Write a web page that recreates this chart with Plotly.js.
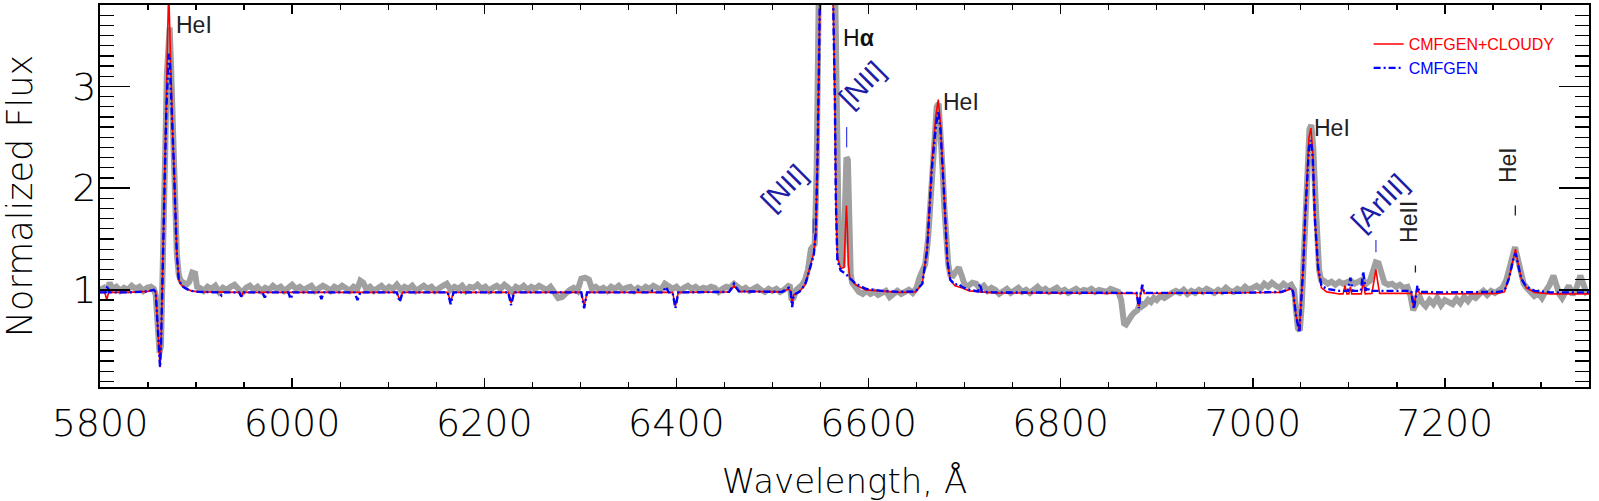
<!DOCTYPE html>
<html>
<head>
<meta charset="utf-8">
<script src="https://cdn.plot.ly/plotly-3.0.1.min.js"></script>
<style>html,body{margin:0;padding:0;background:#fff;}#chart{width:1599px;height:501px;}</style>
</head>
<body>
<div id="chart"></div>
<script>
// Observed spectrum (grey)
const obsWave = [
5800,5804,5807,5810,5813,5817,5821,5825,5829,5833,5837,5841,5845,5849,5853,5856,5858,5860,5862,5863.5,
5865,5866.5,5868,5869.5,5871,5872.5,5874,5875.5,5877,5878.5,5880,5882,5884,5887,5890,5893,5896,5899,5901,5904,
5908,5912,5916,5920,5924,5928,5932,5936,5940,5944,5948,5952,5956,5960,5964,5968,5972,5976,5980,5984,
5988,5992,5996,6000,6004,6008,6012,6016,6020,6024,6028,6032,6036,6040,6044,6048,6052,6056,6060,6064,
6068,6071,6074,6077,6081,6085,6089,6093,6097,6101,6105,6109,6113,6117,6121,6125,6129,6133,6137,6141,
6145,6149,6153,6157,6161,6165,6169,6173,6177,6181,6185,6189,6193,6197,6201,6205,6209,6213,6217,6221,
6225,6229,6233,6237,6241,6245,6249,6253,6257,6261,6265,6269,6273,6277,6281,6285,6289,6293,6297,6301,
6305,6309,6312,6316,6320,6324,6328,6332,6336,6340,6344,6348,6352,6356,6360,6364,6368,6372,6376,6380,
6384,6388,6392,6396,6400,6404,6408,6412,6416,6420,6424,6428,6432,6436,6440,6444,6448,6452,6456,6460,
6464,6468,6472,6476,6480,6484,6488,6492,6496,6500,6504,6508,6512,6515,6518,6520,6522,6525,6528,6531,
6534,6537,6540,6542,6544,6546,6547.5,6549,6556,6563,6566,6567.5,6569,6571,6573,6574.5,6575.5,6577,6578.5,6580,
6581.5,6583,6586,6590,6594,6598,6602,6606,6610,6614,6618,6622,6626,6630,6634,6638,6642,6646,6650,6653,
6656,6659,6662,6665,6668,6671,6673,6675,6677,6679,6681,6683,6685,6688,6691,6694,6697,6700,6704,6708,
6712,6716,6720,6724,6728,6732,6736,6740,6744,6748,6752,6756,6760,6764,6768,6772,6776,6780,6784,6788,
6792,6796,6800,6804,6808,6812,6816,6820,6824,6828,6832,6836,6840,6844,6848,6852,6856,6860,6863,6866,
6868,6871,6874,6877,6880,6883,6885,6888,6891,6894,6897,6900,6904,6908,6912,6916,6920,6924,6928,6932,
6936,6940,6944,6948,6952,6956,6960,6964,6968,6972,6976,6980,6984,6988,6992,6996,7000,7004,7008,7012,
7016,7020,7024,7028,7032,7036,7040,7043,7045,7047,7049,7051,7053,7055,7057,7059,7061,7063,7065,7067,
7069,7071,7074,7078,7082,7086,7090,7094,7098,7102,7106,7110,7114,7118,7122,7125,7128,7131,7134,7137,
7141,7145,7149,7153,7157,7161,7164,7167,7170,7173,7176,7180,7184,7188,7192,7196,7200,7204,7208,7212,
7216,7220,7224,7228,7232,7236,7240,7244,7248,7252,7256,7260,7264,7267,7270,7273,7276,7279,7282,7285,
7289,7293,7297,7301,7305,7309,7313,7316,7319,7322,7325,7329,7333,7337,7341,7344,7347,7350];
const obsFlux = [
1.00,1.02,0.98,1.07,1.01,1.03,0.99,1.02,1.00,1.04,1.01,1.03,0.99,1.02,1.03,1.01,0.95,0.70,0.38,0.45,
0.95,1.60,2.40,3.10,3.55,3.58,3.20,2.70,2.20,1.70,1.35,1.15,1.09,1.07,1.05,1.08,1.17,1.16,1.03,1.02,
0.99,1.03,1.01,1.04,0.98,1.02,1.00,1.03,1.05,1.01,0.97,1.02,1.04,1.00,1.03,0.99,1.02,1.00,1.04,1.01,
1.03,0.99,1.02,1.05,1.01,1.03,1.00,1.02,1.04,0.99,1.01,1.04,1.02,0.99,1.03,1.01,1.04,1.02,0.99,1.03,
1.01,1.09,1.07,1.01,1.03,0.99,1.02,1.04,1.00,1.03,1.01,1.05,1.00,1.03,1.01,1.04,0.99,1.02,1.04,1.01,
1.03,0.99,1.02,1.04,1.06,1.00,1.03,1.01,1.04,0.99,1.03,1.02,1.05,1.01,1.03,0.99,1.02,1.04,1.01,1.05,
1.02,0.98,1.03,1.01,1.04,1.00,1.03,1.01,1.04,1.02,1.00,1.03,0.98,0.92,0.93,0.97,1.00,1.02,0.99,1.11,
1.12,1.10,1.01,1.03,1.00,1.02,0.99,1.03,1.01,1.04,1.00,1.02,1.03,0.99,1.02,1.00,1.03,1.01,1.04,1.02,
1.00,1.06,1.03,1.01,1.03,0.99,1.02,1.04,1.01,1.03,1.00,1.02,1.01,1.03,1.02,0.98,1.01,1.03,1.02,1.06,
1.03,1.00,1.02,0.99,1.01,1.03,1.00,0.98,1.01,0.99,1.01,0.98,1.00,1.03,1.05,0.90,0.92,1.00,1.02,1.05,
1.10,1.20,1.40,1.44,1.45,2.20,3.60,5.50,10.0,5.50,3.20,2.00,1.50,1.28,1.22,1.50,2.10,2.30,2.28,1.60,
1.15,1.07,1.02,0.98,0.96,0.99,0.96,0.98,0.95,0.97,0.99,0.93,0.97,0.99,0.96,0.98,1.00,0.97,1.02,1.12,
1.18,1.25,1.50,2.00,2.50,2.80,2.83,2.60,2.20,1.80,1.45,1.25,1.15,1.14,1.18,1.22,1.14,1.05,1.04,1.07,
1.06,1.01,1.04,0.99,1.02,1.00,0.96,0.98,1.01,0.97,0.99,1.02,0.98,1.00,0.97,1.01,1.03,0.99,1.01,0.98,
1.00,1.02,0.98,1.00,0.97,0.99,1.01,0.98,1.00,0.99,1.01,0.98,1.00,0.99,0.98,1.01,0.99,0.98,0.90,0.67,
0.66,0.72,0.75,0.78,0.80,0.88,0.84,0.86,0.90,0.88,0.92,0.90,0.94,0.92,0.95,0.97,0.99,0.97,1.00,0.96,
0.99,0.97,1.00,0.98,1.01,0.99,0.97,1.00,0.98,1.02,0.99,0.98,1.01,0.99,1.03,1.00,1.02,1.04,1.01,1.06,
1.03,1.07,1.04,1.02,1.06,1.03,1.05,1.00,0.80,0.62,0.60,0.85,1.30,1.85,2.30,2.58,2.62,2.40,1.95,1.45,
1.20,1.10,1.09,1.06,1.08,1.05,1.08,1.06,1.07,1.09,1.06,1.08,1.10,1.06,1.09,1.18,1.27,1.26,1.15,1.07,
1.05,1.06,1.03,1.05,1.02,1.03,0.95,0.80,0.86,0.95,0.88,0.84,0.90,0.86,0.92,0.85,0.90,0.88,0.86,0.91,
0.87,0.93,0.89,0.94,0.92,0.96,0.99,0.95,0.99,0.97,1.00,1.02,1.10,1.20,1.33,1.42,1.30,1.14,1.06,1.02,
0.97,0.94,0.97,0.92,0.99,1.05,1.14,1.05,0.96,0.92,0.98,1.04,0.95,1.02,1.14,1.07,0.98,1.00];

// CMFGEN model (blue dash-dot)
const cmfWave = [
5800,5806,5808,5809.5,5830,5850,5856,5858,5860,5861.5,5862.5,5863.5,5864.5,5866,5867.5,5869,5870.5,5871.5,5872.5,5874,
5875.5,5877,5878.5,5880,5882,5885,5890,5895,5903,5924,5926.5,5929,5945,5947,5949,5969,5971.5,5974,5996,5998.5,
6001,6028,6030.5,6033,6065,6068,6071,6109,6112,6115,6162,6165,6168,6225,6228,6231,6301,6304,6307,6357,
6360,6363,6373,6375,6377,6386,6389,6392,6396,6399,6402,6455,6460,6465,6510,6517,6519,6520.5,6522,6528,
6534,6539,6543,6545,6546.7,6548.4,6550,6553,6556,6559,6562,6564,6565,6566,6567.6,6571,6576,6581,6586.6,6597,
6614,6632,6649,6656,6661,6666,6670,6672.6,6675,6679,6682,6685,6690,6694,6697,6705,6714,6716,6718,6730,
6800,6879,6881.5,6883,6885,6887,6978,6980,6982,7030,7040,7042,7045,7048.5,7050.5,7052.5,7054.5,7056.5,7058.5,7060.5,
7062.5,7064.6,7068,7071.5,7077,7090,7099,7101.6,7104,7112.5,7115,7117.5,7119.5,7121,7165,7167.7,7169.5,7171.4,7173.5,7200,
7255,7262,7267,7270.8,7273.5,7276,7279.5,7284.8,7293.5,7310,7350];
const cmfFlux = [
0.975,0.975,1.04,0.975,0.975,0.985,1.00,0.98,0.65,0.30,0.24,0.45,0.95,1.50,2.15,2.75,3.20,3.32,3.28,2.95,
2.55,2.20,1.75,1.35,1.10,1.04,1.01,0.99,0.98,0.975,0.945,0.975,0.975,0.935,0.975,0.975,0.925,0.975,0.975,0.91,
0.975,0.975,0.91,0.975,0.975,0.90,0.975,0.975,0.88,0.975,0.975,0.86,0.975,0.975,0.85,0.975,0.975,0.82,0.975,0.975,
1.00,0.975,0.975,0.99,0.975,0.975,1.03,0.975,0.975,0.82,0.975,0.98,1.06,0.985,0.98,1.02,0.98,0.83,0.95,0.98,
1.05,1.20,1.34,1.55,2.20,3.20,3.90,7.00,8.50,7.00,4.50,3.50,2.86,1.88,1.29,1.19,1.16,1.11,1.06,1.01,
0.99,0.98,0.985,1.06,1.39,2.20,2.60,2.76,2.56,1.88,1.29,1.10,1.05,1.06,1.03,1.00,0.985,1.06,0.98,0.975,
0.97,0.97,0.82,0.95,1.05,0.97,0.97,0.99,0.97,0.98,1.02,0.98,0.75,0.58,0.90,1.22,1.71,2.10,2.40,2.47,
2.30,1.71,1.22,1.04,1.01,0.99,0.99,1.12,0.99,0.99,1.18,0.99,1.03,0.99,0.99,0.81,0.95,1.04,0.98,0.975,
0.98,0.99,1.12,1.29,1.36,1.26,1.11,1.03,0.99,0.975,0.975];

// CMFGEN+CLOUDY model (red solid)
const cloudyWave = [
5800,5805,5807,5809,5830,5850,5856,5858,5860,5861.5,5862.5,5863.5,5864.5,5866,5867.5,5869,5870.5,5871.5,5872.5,5874,
5875.5,5877,5878.5,5880,5882,5885,5890,5895,5903,5945,5947,5949,6109,6112,6115,6162,6165,6168,6225,6228,
6231,6301,6304,6307,6396,6399,6402,6455,6460,6465,6510,6517,6519,6520.5,6522,6528,6534,6539,6541.5,6543,
6545,6546.7,6548.4,6550,6553,6556,6559,6562,6564,6565,6566,6567.6,6571,6574.5,6576,6577,6578,6579,6580.5,6586.6,
6597,6614,6632,6649,6656,6661,6666,6670,6672.6,6675,6679,6682,6685,6690,6697,6705,6730,6800,6879,6881.5,
6883,6885,6887,7030,7040,7042,7045,7048.5,7050.5,7052.5,7054.5,7056.5,7058.5,7060.5,7062.5,7064.6,7068,7071.5,7077,7090,
7094,7096,7098,7100,7101.6,7103,7113,7115,7117,7124,7126,7128.2,7130,7132,7165,7167.7,7169.5,7171.4,7173.5,7200,
7255,7262,7267,7270.8,7273.5,7276,7279.5,7284.8,7293.5,7310,7350];
const cloudyFlux = [
0.975,0.975,0.90,0.975,0.975,0.985,1.00,0.98,0.65,0.30,0.24,0.45,0.95,1.50,2.20,2.85,3.55,3.95,3.60,3.00,
2.58,2.20,1.75,1.35,1.10,1.04,1.01,0.99,0.98,0.975,0.93,0.975,0.975,0.90,0.975,0.975,0.88,0.975,0.975,0.87,
0.975,0.975,0.84,0.975,0.975,0.84,0.975,0.98,1.04,0.985,0.98,1.01,0.98,0.85,0.95,0.98,1.05,1.22,1.33,1.36,
1.56,2.20,3.20,3.90,7.00,8.50,7.00,4.50,3.50,2.86,1.90,1.32,1.21,1.22,1.60,1.83,1.60,1.25,1.12,1.05,
1.00,0.985,0.975,0.98,1.06,1.40,2.25,2.70,2.87,2.62,1.90,1.30,1.10,1.04,1.02,0.99,0.97,0.965,0.965,0.84,
0.95,1.03,0.965,0.975,1.01,0.98,0.75,0.60,0.90,1.22,1.72,2.15,2.50,2.59,2.35,1.72,1.20,1.02,0.98,0.96,
0.96,1.04,0.96,0.96,1.03,0.96,0.96,1.09,0.96,0.965,1.06,1.20,1.08,0.965,0.965,0.82,0.95,1.02,0.965,0.96,
0.965,0.98,1.13,1.31,1.40,1.27,1.11,1.02,0.975,0.96,0.96];

// Line identifications
const lineLabels = ['HeI','H<b>α</b>','[NII]','[NII]','HeI','HeI','[ArIII]','HeII','HeI'];
const labelWave  = [5877.5,6589.4,6593,6512,6696.5,7082.7,7132.3,7161.8,7265];
const labelFlux  = [3.60,3.48,3.02,2.01,2.85,2.59,1.86,1.67,2.23];
const markWave   = [6542.5,6577.2,7128.2,7169.3,7273.3];
const markLow    = [1.56,2.40,1.37,1.17,1.73];
const markHigh   = [1.70,2.60,1.49,1.24,1.83];

const NAVY = '#1c1ca6';
const labelStyle = [
  {angle:0,color:'#222',xanchor:'left'},
  {angle:0,color:'#111',xanchor:'center'},
  {angle:-45,color:NAVY,xanchor:'center'},
  {angle:-45,color:NAVY,xanchor:'center'},
  {angle:0,color:'#222',xanchor:'center'},
  {angle:0,color:'#222',xanchor:'center'},
  {angle:-45,color:NAVY,xanchor:'center'},
  {angle:-90,color:'#222',xanchor:'center'},
  {angle:-90,color:'#222',xanchor:'center'}
];
const markColor = ['#4646e6','#4646e6','#4646e6','#222','#222'];

const annotations = lineLabels.map((t,i)=>({
  x: labelWave[i], y: labelFlux[i], xref:'x', yref:'y', text:t, showarrow:false,
  textangle: labelStyle[i].angle, xanchor: labelStyle[i].xanchor, yanchor:'middle',
  font:{family:'Liberation Sans, Arial, sans-serif', size: (labelStyle[i].color===NAVY?28:23),
        color: labelStyle[i].color}
}));
const shapes = markWave.map((w,i)=>({
  type:'line', xref:'x', yref:'y', x0:w, x1:w, y0:markLow[i], y1:markHigh[i],
  line:{color:markColor[i], width:1.3}
}));

const traces = [
  {x:obsWave, y:obsFlux, type:'scatter', mode:'lines', name:'Observed', showlegend:false,
   line:{color:'#a0a0a0', width:6}},
  {x:cloudyWave, y:cloudyFlux, type:'scatter', mode:'lines',
   name:'<span style="color:#ff0000">CMFGEN+CLOUDY</span>',
   line:{color:'#ff0000', width:1.6}},
  {x:cmfWave, y:cmfFlux, type:'scatter', mode:'lines',
   name:'<span style="color:#0000ff">CMFGEN</span>',
   line:{color:'#0000ff', width:2.4, dash:'7px,3px,2px,3px'}}
];

const tickFont = {family:'DejaVu Sans, sans-serif', size:38, color:'#000', weight:200};
const titleFont = {family:'DejaVu Sans, sans-serif', size:35, color:'#000', weight:200};
const xTitleFont = {family:'DejaVu Sans, sans-serif', size:34, color:'#000', weight:200};

const layout = {
  width:1599, height:501,
  margin:{l:100, r:10, t:5, b:114, pad:0},
  paper_bgcolor:'#fff', plot_bgcolor:'#fff',
  showlegend:true,
  legend:{x:0.852, y:0.942, xanchor:'left', yanchor:'top', bgcolor:'rgba(0,0,0,0)',
          font:{family:'Liberation Sans, Arial, sans-serif', size:16}, tracegroupgap:0, itemwidth:30},
  xaxis:{range:[5800,7350], tick0:5800, dtick:200, ticks:'inside', ticklen:9, tickwidth:1.5,
         tickcolor:'#000', showline:true, linecolor:'#000', linewidth:2, mirror:'ticks',
         showgrid:false, zeroline:false, tickfont:tickFont, ticklabelstandoff:1,
         minor:{dtick:50, ticks:'inside', ticklen:5, tickwidth:1.3, tickcolor:'#000', showgrid:false},
         title:{text:'Wavelength, Å', font:xTitleFont}},
  yaxis:{range:[0.045,3.8], tick0:0, dtick:1, ticks:'inside', ticklen:30, tickwidth:1.5,
         tickcolor:'#000', showline:true, linecolor:'#000', linewidth:2, mirror:'ticks',
         showgrid:false, zeroline:false, tickfont:tickFont, ticklabelstandoff:-6,
         minor:{dtick:0.1, ticks:'inside', ticklen:14, tickwidth:1.3, tickcolor:'#000', showgrid:false},
         title:{text:'Normalized Flux', font:titleFont}},
  annotations: annotations,
  shapes: shapes
};

Plotly.newPlot('chart', traces, layout, {displayModeBar:false, staticPlot:true});
</script>
</body>
</html>
